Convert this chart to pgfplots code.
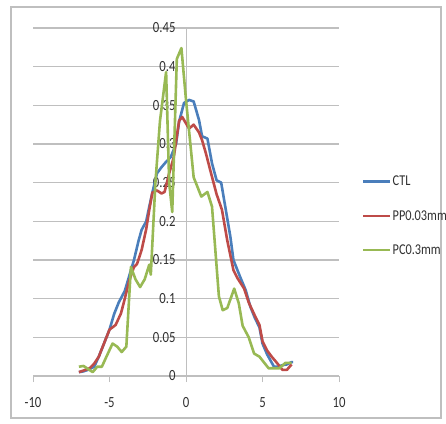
\documentclass[border=0pt]{standalone}
\usepackage{pgfplots}
\pgfplotsset{compat=1.18}
\usepackage{fontspec}
\setmainfont{Carlito}[FakeStretch=0.82]
\definecolor{ctl}{HTML}{4A7EBB}
\definecolor{pp}{HTML}{BE4B48}
\definecolor{pc}{HTML}{98B954}
\definecolor{gridc}{HTML}{BFBFBF}
\definecolor{txt}{HTML}{303030}
\begin{document}
\begin{tikzpicture}[x=1pt,y=1pt]
\draw[gridc, line width=1.2pt] (11,5) rectangle (441,416);
\begin{axis}[
  at={(33pt,47pt)}, anchor=south west,
  scale only axis, width=306pt, height=348pt,
  xmin=-10, xmax=10, ymin=0, ymax=0.45,
  axis x line=bottom, axis y line=center,
  hide obscured x ticks=false, hide obscured y ticks=false,
  axis line style={-, gridc, line width=1pt},
  xtick={-10,-5,0,5,10},
  xticklabels={-10,-5,0,5,10},
  ytick={0,0.05,0.1,0.15,0.2,0.25,0.3,0.35,0.4,0.45},
  yticklabels={0,0.05,0.1,0.15,0.2,0.25,0.3,0.35,0.4,0.45},
  ymajorgrids, grid style={gridc, line width=1.2pt},
  x tick style={gridc, line width=1pt},
  xtick align=outside, major tick length=6pt,
  y tick style={draw=none},
  tick label style={font=\fontsize{15.5}{18}\selectfont, text=txt},
  xticklabel style={anchor=north, yshift=-12pt},
  yticklabel style={anchor=east, xshift=-4pt},
  clip=false,
  legend style={draw=none, fill=none, at={(1.075,0.46)}, anchor=west,
    font=\fontsize{15}{18}\selectfont, text=txt, row sep=21pt, inner sep=0pt,
    nodes={inner sep=1pt}},
  legend cell align=left,
  legend image code/.code={\draw[#1, line width=2.5pt] (0pt,0pt) -- (27pt,0pt);},
  every axis plot/.append style={line width=2.6pt, line join=round},
]
\addplot[ctl] coordinates {
(-7.0,0.005) (-6.7,0.006) (-6.4,0.008) (-6.0,0.012) (-5.7,0.025) (-5.4,0.04)
(-5.0,0.06) (-4.7,0.08) (-4.4,0.095) (-4.0,0.11) (-3.7,0.13) (-3.4,0.15)
(-3.1,0.175) (-2.9,0.189) (-2.6,0.2) (-2.4,0.219) (-2.2,0.237) (-1.9,0.262)
(-1.6,0.27) (-1.3,0.277) (-1.0,0.283) (-0.65,0.30) (-0.45,0.329) (-0.13,0.353)
(0.2,0.357) (0.5,0.355) (0.85,0.331) (1.05,0.31) (1.4,0.307) (1.7,0.275)
(2.0,0.253) (2.3,0.25) (2.6,0.215) (2.9,0.18) (3.1,0.15) (3.5,0.13)
(3.9,0.111) (4.2,0.09) (4.5,0.075) (4.8,0.063) (5.0,0.042) (5.3,0.028)
(5.75,0.012) (6.0,0.012) (6.3,0.014) (6.6,0.015) (6.9,0.018) (7.0,0.018)
};
\addlegendentry{CTL}
\addplot[pp] coordinates {
(-7.0,0.005) (-6.7,0.007) (-6.3,0.01) (-6.0,0.016) (-5.7,0.025) (-5.3,0.045)
(-5.0,0.06) (-4.6,0.066) (-4.25,0.081) (-4.0,0.1) (-3.7,0.124) (-3.4,0.141)
(-3.2,0.145) (-2.9,0.163) (-2.6,0.19) (-2.4,0.215) (-2.2,0.237) (-1.9,0.24)
(-1.6,0.236) (-1.4,0.238) (-1.1,0.262) (-0.8,0.283) (-0.6,0.31) (-0.45,0.33)
(-0.25,0.335) (0.2,0.32) (0.5,0.325) (0.85,0.315) (1.05,0.305) (1.3,0.288)
(1.6,0.265) (1.8,0.25) (2.0,0.235) (2.35,0.215) (2.7,0.175) (3.1,0.137)
(3.35,0.127) (3.8,0.113) (4.1,0.095) (4.5,0.078) (4.8,0.066) (5.0,0.045)
(5.3,0.033) (5.6,0.025) (5.9,0.018) (6.3,0.008) (6.6,0.008) (6.9,0.015)
};
\addlegendentry{PP0.03mm}
\addplot[pc] coordinates {
(-7.0,0.012) (-6.7,0.013) (-6.4,0.009) (-6.1,0.005) (-5.8,0.012) (-5.5,0.012)
(-5.2,0.025) (-4.8,0.042) (-4.5,0.038) (-4.2,0.031) (-3.9,0.038) (-3.6,0.141)
(-3.3,0.125) (-3.0,0.115) (-2.7,0.125) (-2.4,0.144) (-2.3,0.131) (-2.0,0.25)
(-1.7,0.33) (-1.3,0.393) (-1.1,0.25) (-0.9,0.212) (-0.6,0.41) (-0.3,0.424)
(0.0,0.357) (0.5,0.257) (1.0,0.232) (1.4,0.238) (1.7,0.219) (2.15,0.103)
(2.4,0.085) (2.7,0.088) (3.15,0.113) (3.45,0.094) (3.7,0.065) (4.1,0.05)
(4.45,0.029) (4.8,0.025) (5.4,0.010) (6.1,0.010) (6.5,0.017) (6.9,0.017)
};
\addlegendentry{PC0.3mm}
\end{axis}
\pgfresetboundingbox
\path (0,0) rectangle (446,423);
\end{tikzpicture}
\end{document}
